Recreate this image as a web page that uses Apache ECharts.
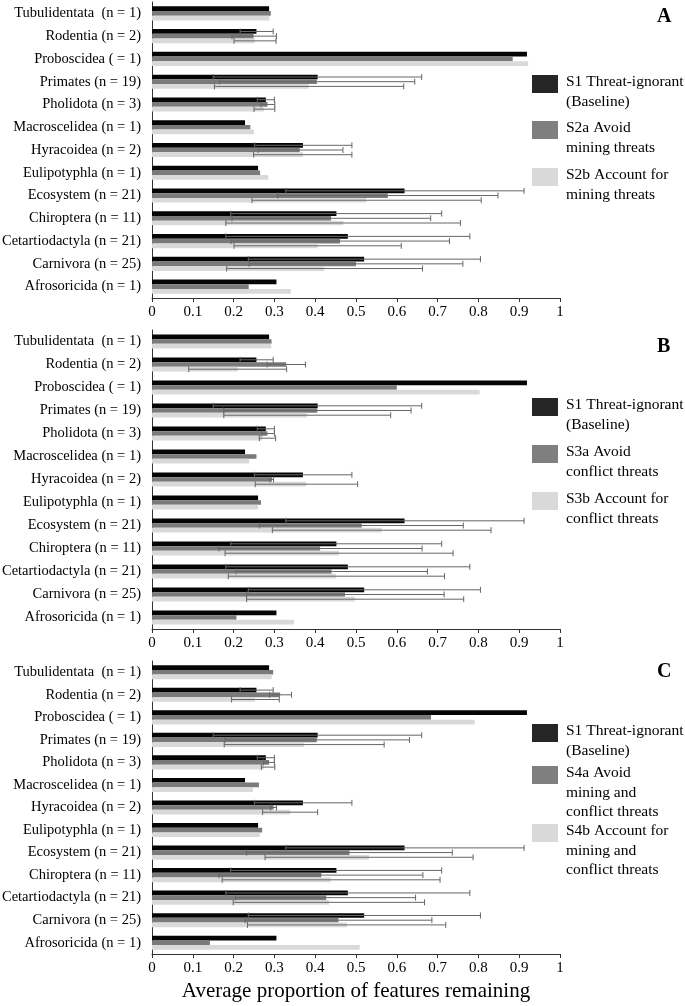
<!DOCTYPE html>
<html><head><meta charset="utf-8">
<script src="https://cdn.jsdelivr.net/npm/echarts@6/dist/echarts.min.js"></script>
<style>html,body{margin:0;padding:0;background:#fff}#c{width:685px;height:1006px}</style>
</head><body><div id="c"></div>
<script>
// ---------- DATA ----------
const categories = ['Tubulidentata  (n = 1)','Rodentia (n = 2)','Proboscidea ( = 1)','Primates (n = 19)','Pholidota (n = 3)','Macroscelidea (n = 1)','Hyracoidea (n = 2)','Eulipotyphla (n = 1)','Ecosystem (n = 21)','Chiroptera (n = 11)','Cetartiodactyla (n = 21)','Carnivora (n = 25)','Afrosoricida (n = 1)'];

// S1 Threat-ignorant (Baseline) - same in all panels
const s1Mean = [0.287,0.256,0.919,0.406,0.279,0.228,0.370,0.260,0.619,0.452,0.480,0.520,0.305];
const s1Low  = [null,0.216,null,0.150,0.258,null,0.251,null,0.328,0.193,0.181,0.236,null];
const s1High = [null,0.297,null,0.661,0.300,null,0.490,null,0.912,0.710,0.779,0.805,null];

// Panel A
const s2aMean = [0.291,0.249,0.884,0.404,0.283,0.241,0.362,0.265,0.578,0.439,0.461,0.500,0.237];
const s2aLow  = [null,0.196,null,0.166,0.267,null,0.260,null,0.308,0.196,0.194,0.238,null];
const s2aHigh = [null,0.305,null,0.644,0.301,null,0.468,null,0.848,0.683,0.729,0.762,null];
const s2bMean = [0.288,0.252,0.922,0.384,0.274,0.250,0.370,0.285,0.525,0.469,0.406,0.422,0.340];
const s2bLow  = [null,0.201,null,0.153,0.250,null,0.249,null,0.245,0.181,0.201,0.183,null];
const s2bHigh = [null,0.304,null,0.617,0.301,null,0.490,null,0.807,0.756,0.611,0.663,null];

// Panel B
const s3aMean = [0.293,0.329,0.600,0.405,0.283,0.256,0.294,0.267,0.514,0.412,0.440,0.473,0.207];
const s3aLow  = [null,0.282,null,0.176,0.269,null,0.289,null,0.263,0.164,0.206,0.232,null];
const s3aHigh = [null,0.376,null,0.635,0.300,null,0.298,null,0.763,0.662,0.675,0.716,null];
const s3bMean = [0.292,0.210,0.803,0.380,0.270,0.238,0.378,0.260,0.563,0.458,0.451,0.497,0.348];
const s3bLow  = [null,0.090,null,0.176,0.263,null,0.253,null,0.295,0.179,0.187,0.232,null];
const s3bHigh = [null,0.330,null,0.585,0.303,null,0.504,null,0.831,0.738,0.717,0.764,null];

// Panel C
const s4aMean = [0.297,0.314,0.684,0.404,0.287,0.262,0.298,0.270,0.484,0.415,0.427,0.457,0.142];
const s4aLow  = [null,0.288,null,0.179,0.273,null,0.291,null,0.232,0.164,0.205,0.228,null];
const s4aHigh = [null,0.342,null,0.631,0.300,null,0.305,null,0.736,0.664,0.646,0.686,null];
const s4bMean = [0.293,0.252,0.791,0.373,0.275,0.247,0.339,0.264,0.532,0.438,0.434,0.478,0.509];
const s4bLow  = [null,0.195,null,0.177,0.268,null,0.271,null,0.277,0.172,0.199,0.234,null];
const s4bHigh = [null,0.312,null,0.569,0.301,null,0.406,null,0.787,0.706,0.668,0.720,null];

const xTickLabels = ['0','0.1','0.2','0.3','0.4','0.5','0.6','0.7','0.8','0.9','1'];

const namesA = ['S1 Threat-ignorant\n(Baseline)','S2a Avoid\nmining threats','S2b Account for\nmining threats'];
const namesB = ['S1 Threat-ignorant\n(Baseline)','S3a Avoid\nconflict threats','S3b Account for\nconflict threats'];
const namesC = ['S1 Threat-ignorant\n(Baseline)','S4a Avoid\nmining and\nconflict threats','S4b Account for\nmining and\nconflict threats'];
const panelLetters = ['A','B','C'];
const xTitle = 'Average proportion of features remaining';

// ---------- STYLE / LAYOUT ----------
const FONT = "'Liberation Serif','Times New Roman',serif";
const colors = ['#050505','#7a7a7a','#d9d9d9'];
const legendColors = ['#262626','#7f7f7f','#d9d9d9'];
const BW = 4.7;
const panels = [
  {top:2, height:296, names:namesA, mean:[s1Mean,s2aMean,s2bMean], low:[s1Low,s2aLow,s2bLow], high:[s1High,s2aHigh,s2bHigh], sq:[75,121,168], letterY:17},
  {top:330, height:299, names:namesB, mean:[s1Mean,s3aMean,s3bMean], low:[s1Low,s3aLow,s3bLow], high:[s1High,s3aHigh,s3bHigh], sq:[398,445,492], letterY:347},
  {top:661, height:293, names:namesC, mean:[s1Mean,s4aMean,s4bMean], low:[s1Low,s4aLow,s4bLow], high:[s1High,s4aHigh,s4bHigh], sq:[724,766,824], letterY:672}
];

const grids=[], xAxes=[], yAxes=[], series=[], graphics=[];
panels.forEach((p, pi) => {
  grids.push({left:152, width:408, top:p.top, height:p.height, containLabel:false, outerBoundsMode:'none'});
  xAxes.push({
    type:'value', gridIndex:pi, min:0, max:1, interval:0.1,
    axisLine:{show:true, onZero:false, lineStyle:{color:'#333', width:1}},
    axisTick:{show:true, length:4, lineStyle:{color:'#333'}},
    splitLine:{show:false},
    axisLabel:{fontFamily:FONT, fontSize:15, color:'#000', margin:7,
      formatter:(v)=> xTickLabels[Math.round(v*10)]},
    name: pi===2 ? xTitle : '', nameLocation:'middle', nameGap:27,
    nameTextStyle:{fontFamily:FONT, fontSize:21, color:'#000'}
  });
  yAxes.push({
    type:'category', gridIndex:pi, data:categories, inverse:true,
    axisLine:{show:true, lineStyle:{color:'#333', width:1}},
    axisTick:{show:false},
    axisLabel:{fontFamily:FONT, fontSize:14.5, color:'#000', margin:11}
  });
  for (let s=0; s<3; s++) {
    series.push({
      type:'bar', name:p.names[s], xAxisIndex:pi, yAxisIndex:pi,
      data:p.mean[s], barWidth:BW, barGap:'0%',
      itemStyle:{color:colors[s]}, animation:false, silent:true
    });
  }
  for (let s=0; s<3; s++) {
    const rows = [];
    categories.forEach((c, ci) => {
      if (p.low[s][ci] != null) rows.push([ci, p.low[s][ci], p.high[s][ci]]);
    });
    const off = (s-1)*BW;
    series.push({
      type:'custom', name:'err'+pi+s, xAxisIndex:pi, yAxisIndex:pi, z:10, silent:true, animation:false,
      encode:{x:[1,2], y:0}, data:rows,
      renderItem:(params, api) => {
        const ci = api.value(0);
        const a = api.coord([api.value(1), ci]);
        const b = api.coord([api.value(2), ci]);
        const y = a[1] + off;
        const h = 3;
        const st = {stroke:'#666', lineWidth:1};
        return {type:'group', children:[
          {type:'line', shape:{x1:a[0], y1:y, x2:b[0], y2:y}, style:st},
          {type:'line', shape:{x1:a[0], y1:y-h, x2:a[0], y2:y+h}, style:st},
          {type:'line', shape:{x1:b[0], y1:y-h, x2:b[0], y2:y+h}, style:st}
        ]};
      }
    });
  }
  // legend
  for (let s=0; s<3; s++) {
    graphics.push({type:'rect', left:532, top:p.sq[s], shape:{width:26, height:18}, style:{fill:legendColors[s]}});
    graphics.push({type:'text', left:566, top:p.sq[s]-2.5, style:{text:p.names[s], font:'15.5px '+FONT, fill:'#000', lineHeight:19.5}});
  }
  graphics.push({type:'text', left:657, top:p.letterY-10, style:{text:panelLetters[pi], font:'bold 20px '+FONT, fill:'#000'}});
});

const chart = echarts.init(document.getElementById('c'), null, {renderer:'canvas'});
chart.setOption({
  animation:false,
  grid:grids, xAxis:xAxes, yAxis:yAxes, series:series, graphic:graphics
});
</script></body></html>
